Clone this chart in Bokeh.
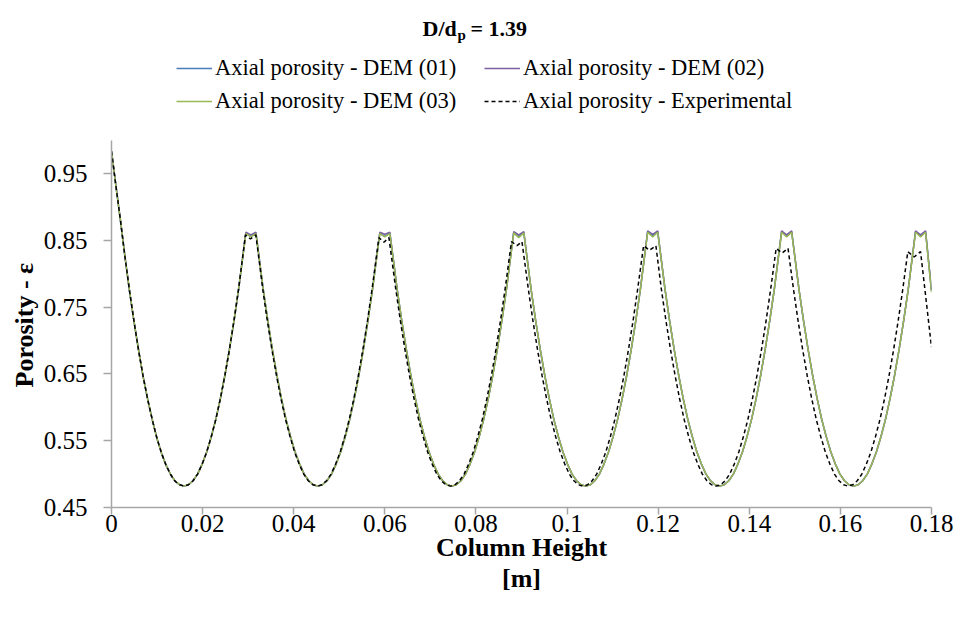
from bokeh.plotting import figure
from bokeh.models import Range1d, FixedTicker, Legend, LegendItem, Label, Title
from bokeh.embed import file_html
from bokeh.resources import INLINE

# ---------------- data ----------------
dem_x = [
    0.0, 0.001, 0.002, 0.003, 0.004, 0.005, 0.006, 0.007, 0.008, 0.009, 0.010, 0.011, 0.012, 0.013, 0.014, 0.015,
    0.0159, 0.0169, 0.0179, 0.0189, 0.0199, 0.0209, 0.0219, 0.0229, 0.0239, 0.0249, 0.0259, 0.0269, 0.0279, 0.0295,
    0.0306, 0.0317,
    0.0333, 0.0343, 0.0353, 0.0363, 0.0373, 0.0383, 0.0393, 0.0403, 0.0413, 0.0423, 0.0433, 0.0443, 0.0453,
    0.0463, 0.0473, 0.0483, 0.0493, 0.0503, 0.0513, 0.0523, 0.0533, 0.0543, 0.0553, 0.0563, 0.0573, 0.0589,
    0.0600, 0.0611,
    0.0627, 0.0637, 0.0647, 0.0657, 0.0667, 0.0677, 0.0687, 0.0697, 0.0707, 0.0717, 0.0727, 0.0737, 0.0747,
    0.0757, 0.0767, 0.0777, 0.0787, 0.0797, 0.0807, 0.0817, 0.0827, 0.0837, 0.0847, 0.0857, 0.0867, 0.0883,
    0.0894, 0.0905,
    0.0921, 0.0931, 0.0941, 0.0951, 0.0961, 0.0971, 0.0981, 0.0991, 0.1001, 0.1011, 0.1021, 0.1031, 0.1041,
    0.1051, 0.1061, 0.1071, 0.1081, 0.1091, 0.1101, 0.1111, 0.1121, 0.1131, 0.1141, 0.1151, 0.1161, 0.1177,
    0.1188, 0.1199,
    0.1215, 0.1225, 0.1235, 0.1245, 0.1255, 0.1265, 0.1275, 0.1285, 0.1295, 0.1305, 0.1315, 0.1325, 0.1335,
    0.1345, 0.1355, 0.1365, 0.1375, 0.1385, 0.1395, 0.1405, 0.1415, 0.1425, 0.1435, 0.1445, 0.1455, 0.1471,
    0.1482, 0.1493,
    0.1509, 0.1519, 0.1529, 0.1539, 0.1549, 0.1559, 0.1569, 0.1579, 0.1589, 0.1599, 0.1609, 0.1619, 0.1629,
    0.1639, 0.1649, 0.1659, 0.1669, 0.1679, 0.1689, 0.1699, 0.1709, 0.1719, 0.1729, 0.1739, 0.1749, 0.1765,
    0.1776, 0.1787,
    0.1800,
]

dem01_y = [
    0.983, 0.930, 0.878, 0.823, 0.772, 0.726, 0.683, 0.644, 0.610, 0.580, 0.553, 0.531, 0.513, 0.499, 0.489, 0.484,
    0.482, 0.484, 0.490, 0.500, 0.515, 0.533, 0.556, 0.582, 0.613, 0.648, 0.687, 0.730, 0.777, 0.861,
    0.856, 0.861,
    0.777, 0.730, 0.687, 0.648, 0.613, 0.582, 0.556, 0.533, 0.515, 0.500, 0.490, 0.484, 0.482,
    0.484, 0.490, 0.500, 0.515, 0.533, 0.556, 0.582, 0.613, 0.648, 0.687, 0.730, 0.777, 0.861,
    0.856, 0.861,
    0.777, 0.730, 0.687, 0.648, 0.613, 0.582, 0.556, 0.533, 0.515, 0.500, 0.490, 0.484, 0.482,
    0.484, 0.490, 0.500, 0.515, 0.533, 0.556, 0.582, 0.613, 0.648, 0.687, 0.730, 0.777, 0.862,
    0.856, 0.862,
    0.777, 0.730, 0.687, 0.648, 0.613, 0.582, 0.556, 0.533, 0.515, 0.500, 0.490, 0.484, 0.482,
    0.484, 0.490, 0.500, 0.515, 0.533, 0.556, 0.582, 0.613, 0.648, 0.687, 0.730, 0.777, 0.863,
    0.857, 0.863,
    0.777, 0.730, 0.687, 0.648, 0.613, 0.582, 0.556, 0.533, 0.515, 0.500, 0.490, 0.484, 0.482,
    0.484, 0.490, 0.500, 0.515, 0.533, 0.556, 0.582, 0.613, 0.648, 0.687, 0.730, 0.777, 0.863,
    0.857, 0.863,
    0.777, 0.730, 0.687, 0.648, 0.613, 0.582, 0.556, 0.533, 0.515, 0.500, 0.490, 0.484, 0.482,
    0.484, 0.490, 0.500, 0.515, 0.533, 0.556, 0.582, 0.613, 0.648, 0.687, 0.730, 0.777, 0.863,
    0.857, 0.863,
    0.775,
]

dem02_y = [
    0.983, 0.930, 0.878, 0.823, 0.772, 0.726, 0.683, 0.644, 0.610, 0.580, 0.553, 0.531, 0.513, 0.499, 0.489, 0.484,
    0.482, 0.484, 0.490, 0.500, 0.515, 0.533, 0.556, 0.582, 0.613, 0.648, 0.687, 0.730, 0.777, 0.862,
    0.858, 0.862,
    0.777, 0.730, 0.687, 0.648, 0.613, 0.582, 0.556, 0.533, 0.515, 0.500, 0.490, 0.484, 0.482,
    0.484, 0.490, 0.500, 0.515, 0.533, 0.556, 0.582, 0.613, 0.648, 0.687, 0.730, 0.777, 0.862,
    0.859, 0.862,
    0.777, 0.730, 0.687, 0.648, 0.613, 0.582, 0.556, 0.533, 0.515, 0.500, 0.490, 0.484, 0.482,
    0.484, 0.490, 0.500, 0.515, 0.533, 0.556, 0.582, 0.613, 0.648, 0.687, 0.730, 0.777, 0.863,
    0.858, 0.863,
    0.777, 0.730, 0.687, 0.648, 0.613, 0.582, 0.556, 0.533, 0.515, 0.500, 0.490, 0.484, 0.482,
    0.484, 0.490, 0.500, 0.515, 0.533, 0.556, 0.582, 0.613, 0.648, 0.687, 0.730, 0.777, 0.864,
    0.859, 0.864,
    0.777, 0.730, 0.687, 0.648, 0.613, 0.582, 0.556, 0.533, 0.515, 0.500, 0.490, 0.484, 0.482,
    0.484, 0.490, 0.500, 0.515, 0.533, 0.556, 0.582, 0.613, 0.648, 0.687, 0.730, 0.777, 0.864,
    0.858, 0.864,
    0.777, 0.730, 0.687, 0.648, 0.613, 0.582, 0.556, 0.533, 0.515, 0.500, 0.490, 0.484, 0.482,
    0.484, 0.490, 0.500, 0.515, 0.533, 0.556, 0.582, 0.613, 0.648, 0.687, 0.730, 0.777, 0.864,
    0.858, 0.864,
    0.775,
]

dem03_y = [
    0.983, 0.930, 0.878, 0.823, 0.772, 0.726, 0.683, 0.644, 0.610, 0.580, 0.553, 0.531, 0.513, 0.499, 0.489, 0.484,
    0.482, 0.484, 0.490, 0.500, 0.515, 0.533, 0.556, 0.582, 0.613, 0.648, 0.687, 0.730, 0.777, 0.860,
    0.855, 0.860,
    0.777, 0.730, 0.687, 0.648, 0.613, 0.582, 0.556, 0.533, 0.515, 0.500, 0.490, 0.484, 0.482,
    0.484, 0.490, 0.500, 0.515, 0.533, 0.556, 0.582, 0.613, 0.648, 0.687, 0.730, 0.777, 0.860,
    0.855, 0.860,
    0.777, 0.730, 0.687, 0.648, 0.613, 0.582, 0.556, 0.533, 0.515, 0.500, 0.490, 0.484, 0.482,
    0.484, 0.490, 0.500, 0.515, 0.533, 0.556, 0.582, 0.613, 0.648, 0.687, 0.730, 0.777, 0.861,
    0.854, 0.861,
    0.777, 0.730, 0.687, 0.648, 0.613, 0.582, 0.556, 0.533, 0.515, 0.500, 0.490, 0.484, 0.482,
    0.484, 0.490, 0.500, 0.515, 0.533, 0.556, 0.582, 0.613, 0.648, 0.687, 0.730, 0.777, 0.862,
    0.855, 0.862,
    0.777, 0.730, 0.687, 0.648, 0.613, 0.582, 0.556, 0.533, 0.515, 0.500, 0.490, 0.484, 0.482,
    0.484, 0.490, 0.500, 0.515, 0.533, 0.556, 0.582, 0.613, 0.648, 0.687, 0.730, 0.777, 0.862,
    0.855, 0.862,
    0.777, 0.730, 0.687, 0.648, 0.613, 0.582, 0.556, 0.533, 0.515, 0.500, 0.490, 0.484, 0.482,
    0.484, 0.490, 0.500, 0.515, 0.533, 0.556, 0.582, 0.613, 0.648, 0.687, 0.730, 0.777, 0.862,
    0.855, 0.862,
    0.772,
]

exp_x = [
    0.0, 0.001, 0.002, 0.003, 0.004, 0.005, 0.006, 0.007, 0.008, 0.009, 0.010, 0.011, 0.012, 0.013, 0.014, 0.015,
    0.0159, 0.0169, 0.0179, 0.0189, 0.0199, 0.0209, 0.0219, 0.0229, 0.0239, 0.0249, 0.0259, 0.0269, 0.0279, 0.0294,
    0.0305, 0.0317,
    0.0332, 0.0342, 0.0352, 0.0362, 0.0372, 0.0382, 0.0392, 0.0402, 0.0412, 0.0422, 0.0432, 0.0442, 0.0452,
    0.0462, 0.0472, 0.0482, 0.0492, 0.0502, 0.0512, 0.0522, 0.0532, 0.0542, 0.0552, 0.0562, 0.0572, 0.0587,
    0.0598, 0.0609,
    0.0624, 0.0634, 0.0644, 0.0654, 0.0664, 0.0674, 0.0684, 0.0694, 0.0704, 0.0714, 0.0724, 0.0734, 0.0744,
    0.0754, 0.0764, 0.0774, 0.0784, 0.0794, 0.0804, 0.0814, 0.0824, 0.0834, 0.0844, 0.0854, 0.0864, 0.0878,
    0.0890, 0.0901,
    0.0915, 0.0925, 0.0935, 0.0945, 0.0955, 0.0965, 0.0975, 0.0985, 0.0995, 0.1005, 0.1015, 0.1025, 0.1035,
    0.1045, 0.1055, 0.1065, 0.1075, 0.1085, 0.1095, 0.1105, 0.1115, 0.1125, 0.1135, 0.1145, 0.1155, 0.1168,
    0.1181, 0.1195,
    0.1207, 0.1217, 0.1227, 0.1237, 0.1247, 0.1257, 0.1267, 0.1277, 0.1287, 0.1297, 0.1307, 0.1317, 0.1327,
    0.1337, 0.1347, 0.1357, 0.1367, 0.1377, 0.1387, 0.1397, 0.1407, 0.1417, 0.1427, 0.1437, 0.1447, 0.1459,
    0.1472, 0.1485,
    0.1497, 0.1507, 0.1517, 0.1527, 0.1537, 0.1547, 0.1557, 0.1567, 0.1577, 0.1587, 0.1597, 0.1607, 0.1617,
    0.1627, 0.1637, 0.1647, 0.1657, 0.1667, 0.1677, 0.1687, 0.1697, 0.1707, 0.1717, 0.1727, 0.1737, 0.1748,
    0.1762, 0.1776,
    0.1800,
]

exp_y = [
    0.983, 0.930, 0.878, 0.823, 0.772, 0.726, 0.683, 0.644, 0.610, 0.580, 0.553, 0.531, 0.513, 0.499, 0.489, 0.484,
    0.482, 0.484, 0.490, 0.500, 0.515, 0.533, 0.556, 0.582, 0.613, 0.648, 0.687, 0.730, 0.777, 0.858,
    0.852, 0.858,
    0.777, 0.730, 0.687, 0.648, 0.613, 0.582, 0.556, 0.533, 0.515, 0.500, 0.490, 0.484, 0.482,
    0.484, 0.490, 0.500, 0.515, 0.533, 0.556, 0.582, 0.613, 0.648, 0.687, 0.730, 0.777, 0.854,
    0.847, 0.854,
    0.777, 0.730, 0.687, 0.648, 0.613, 0.582, 0.556, 0.533, 0.515, 0.500, 0.490, 0.484, 0.482,
    0.484, 0.490, 0.500, 0.515, 0.533, 0.556, 0.582, 0.613, 0.648, 0.687, 0.730, 0.777, 0.848,
    0.842, 0.848,
    0.777, 0.730, 0.687, 0.648, 0.613, 0.582, 0.556, 0.533, 0.515, 0.500, 0.490, 0.484, 0.482,
    0.484, 0.490, 0.500, 0.515, 0.533, 0.556, 0.582, 0.613, 0.648, 0.687, 0.730, 0.777, 0.842,
    0.835, 0.842,
    0.777, 0.730, 0.687, 0.648, 0.613, 0.582, 0.556, 0.533, 0.515, 0.500, 0.490, 0.484, 0.482,
    0.484, 0.490, 0.500, 0.515, 0.533, 0.556, 0.582, 0.613, 0.648, 0.687, 0.730, 0.777, 0.838,
    0.831, 0.838,
    0.777, 0.730, 0.687, 0.648, 0.613, 0.582, 0.556, 0.533, 0.515, 0.500, 0.490, 0.484, 0.482,
    0.484, 0.490, 0.500, 0.515, 0.533, 0.556, 0.582, 0.613, 0.648, 0.687, 0.730, 0.777, 0.833,
    0.825, 0.833,
    0.690,
]

series_labels = [
    "Axial porosity - DEM (01)",
    "Axial porosity - DEM (02)",
    "Axial porosity - DEM (03)",
    "Axial porosity - Experimental",
]

x_ticks = [0.0, 0.02, 0.04, 0.06, 0.08, 0.10, 0.12, 0.14, 0.16, 0.18]
x_tick_labels = ["0", "0.02", "0.04", "0.06", "0.08", "0.1", "0.12", "0.14", "0.16", "0.18"]
y_ticks = [0.45, 0.55, 0.65, 0.75, 0.85, 0.95]
y_tick_labels = ["0.45", "0.55", "0.65", "0.75", "0.85", "0.95"]

# ---------------- figure ----------------
SERIF = "Liberation Serif"

# the frame reaches up to the top of the page so that the legend and the
# title can live inside it; the y axis itself only spans 0.45 .. 1.0
p = figure(width=955, height=619, output_backend="svg", toolbar_location=None,
           x_range=Range1d(0, 0.18), y_range=Range1d(0.45, 1.2),
           min_border_left=111, min_border_right=24, min_border_top=6, min_border_bottom=112)
p.xgrid.visible = False
p.ygrid.visible = False
p.outline_line_color = None
p.background_fill_color = "white"
p.border_fill_color = "white"

r1 = p.line(dem_x, dem01_y, line_color="#4A7EBB", line_width=1.5)
r2 = p.line(dem_x, dem02_y, line_color="#7D60A0", line_width=1.5)
r3 = p.line(dem_x, dem03_y, line_color="#98B954", line_width=1.5)
r4 = p.line(exp_x, exp_y, line_color="black", line_width=1.5, line_dash="4 3")

# axes
xa = p.xaxis[0]
ya = p.yaxis[0]
for ax in (xa, ya):
    ax.axis_line_color = "#A6A6A6"
    ax.axis_line_width = 1.5
    ax.major_tick_line_color = "#A6A6A6"
    ax.major_tick_line_width = 1.5
    ax.minor_tick_line_color = None
    ax.major_tick_in = 0
    ax.major_label_text_font = SERIF
    ax.major_label_text_font_size = "25px"
    ax.major_label_text_color = "black"
    ax.axis_label_text_font = SERIF
    ax.axis_label_text_font_style = "bold"
    ax.axis_label_text_font_size = "26px"
    ax.axis_label_text_color = "black"

xa.ticker = FixedTicker(ticks=x_ticks)
xa.major_label_overrides = dict(zip(x_ticks, x_tick_labels))
xa.major_tick_out = 7
xa.major_label_standoff = 0
xa.axis_label = "Column Height\n[m]"
xa.axis_label_standoff = -2
xa.axis_label_text_line_height = 1.1

ya.bounds = (0.45, 1.0)
ya.ticker = FixedTicker(ticks=y_ticks)
ya.major_label_overrides = dict(zip(y_ticks, y_tick_labels))
ya.major_tick_out = 8
ya.major_label_standoff = 16

# y axis title, placed along the 0.45 .. 1.0 part of the frame
p.add_layout(Title(text="Porosity - ε", align="left", offset=120, standoff=4,
                   text_font=SERIF, text_font_style="bold", text_font_size="26px",
                   text_color="black"), "left")

# legend (two columns, filled column by column: 01 / 03 | 02 / Experimental)
legend = Legend(
    items=[LegendItem(label=series_labels[0], renderers=[r1]),
           LegendItem(label=series_labels[2], renderers=[r3]),
           LegendItem(label=series_labels[1], renderers=[r2]),
           LegendItem(label=series_labels[3], renderers=[r4])],
    ncols=2, location=(65, 393),
    glyph_width=36, glyph_height=26, label_height=26, label_width=262,
    spacing=7, label_standoff=3, padding=0, margin=0,
    border_line_alpha=0, background_fill_alpha=0,
    label_text_font=SERIF, label_text_font_size="22.5px", label_text_color="black",
)
p.add_layout(legend, "center")

# title  D/d_p = 1.39
p.add_layout(Label(x=311, y=479, x_units="screen", y_units="screen", text="D/d",
                   text_font=SERIF, text_font_style="bold", text_font_size="22px",
                   text_baseline="alphabetic", text_align="left", text_color="black"))
p.add_layout(Label(x=346, y=473, x_units="screen", y_units="screen", text="p",
                   text_font=SERIF, text_font_style="bold", text_font_size="15px",
                   text_baseline="alphabetic", text_align="left", text_color="black"))
p.add_layout(Label(x=359, y=479, x_units="screen", y_units="screen", text="= 1.39",
                   text_font=SERIF, text_font_style="bold", text_font_size="22px",
                   text_baseline="alphabetic", text_align="left", text_color="black"))

open("out.html", "w").write(file_html(p, INLINE))
